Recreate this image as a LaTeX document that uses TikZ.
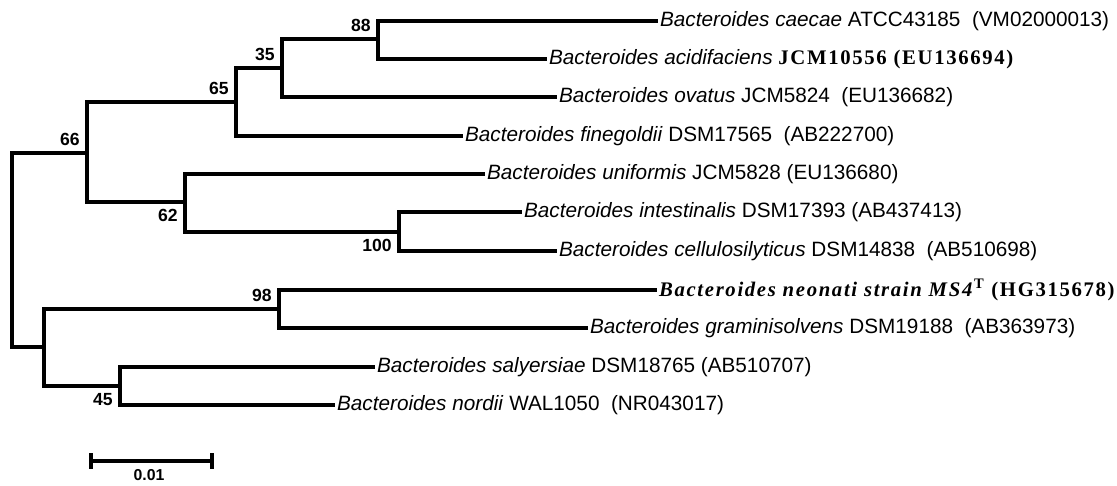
\documentclass[tikz,border=0pt]{standalone}
\usepackage{fontspec}
\setmainfont{Liberation Sans}
\newfontfamily\serifbf[LetterSpace=8]{Liberation Serif}
\usetikzlibrary{positioning}

\begin{document}
\begin{tikzpicture}[x=0.02cm, y=-0.02cm,
  br/.style={line width=1.9pt},
  taxon/.style={anchor=west, inner sep=1pt, font=\fontsize{11.8}{13}\selectfont},
  boot/.style={inner sep=4pt, font=\fontsize{10}{11}\selectfont\bfseries}]
  \useasboundingbox (0,0) rectangle (1117,485);
  % internal nodes
  \coordinate (root) at (12,250);
  \coordinate (n66) at (87,153);
  \coordinate (n65) at (236,102);
  \coordinate (n35) at (282,68);
  \coordinate (n88) at (378,39);
  \coordinate (n62) at (185,202);
  \coordinate (n100) at (399,232);
  \coordinate (nlow) at (44,347);
  \coordinate (n98) at (279,309);
  \coordinate (n45) at (120,386);
  % leaves
  \node[taxon] (caecae) at (658,21) {\textit{Bacteroides caecae} ATCC43185\ \ (VM02000013)};
  \node[taxon] (acidi) at (547,59) {\textit{Bacteroides acidifaciens} {\serifbf\bfseries JCM10556 (EU136694)}};
  \node[taxon] (ovatus) at (557,97) {\textit{Bacteroides ovatus} JCM5824\ \ (EU136682)};
  \node[taxon] (fine) at (463,136) {\textit{Bacteroides finegoldii} DSM17565\ \ (AB222700)};
  \node[taxon] (unif) at (485,174) {\textit{Bacteroides uniformis} JCM5828 (EU136680)};
  \node[taxon] (intest) at (522,212) {\textit{Bacteroides intestinalis} DSM17393\ (AB437413)};
  \node[taxon] (cellu) at (557,251) {\textit{Bacteroides cellulosilyticus} DSM14838\ \ (AB510698)};
  \node[taxon] (neonati) at (657,290) {\serifbf\bfseries\textit{Bacteroides neonati strain MS4}\textsuperscript{T} (HG315678)};
  \node[taxon] (gramin) at (588,328) {\textit{Bacteroides graminisolvens} DSM19188\ \ (AB363973)};
  \node[taxon] (salyer) at (375,367) {\textit{Bacteroides salyersiae} DSM18765 (AB510707)};
  \node[taxon] (nordii) at (335,405) {\textit{Bacteroides nordii} WAL1050\ \ (NR043017)};
  % branches
  \draw[br] (root) |- (n66);
  \draw[br] (root) |- (nlow);
  \draw[br] (n66) |- (n65);
  \draw[br] (n66) |- (n62);
  \draw[br] (n65) |- (n35);
  \draw[br] (n65) |- (fine.west);
  \draw[br] (n35) |- (n88);
  \draw[br] (n35) |- (ovatus.west);
  \draw[br] (n88) |- (caecae.west);
  \draw[br] (n88) |- (acidi.west);
  \draw[br] (n62) |- (unif.west);
  \draw[br] (n62) |- (n100);
  \draw[br] (n100) |- (intest.west);
  \draw[br] (n100) |- (cellu.west);
  \draw[br] (nlow) |- (n98);
  \draw[br] (nlow) |- (n45);
  \draw[br] (n98) |- (neonati.west);
  \draw[br] (n98) |- (gramin.west);
  \draw[br] (n45) |- (salyer.west);
  \draw[br] (n45) |- (nordii.west);
  % bootstrap values
  \node[boot, anchor=south east] (b88) at (n88) {88};
  \node[boot, anchor=south east] (b35) at (n35) {35};
  \node[boot, anchor=south east] (b65) at (n65) {65};
  \node[boot, anchor=south east] (b66) at (n66) {66};
  \node[boot, anchor=north east] (b62) at (n62) {62};
  \node[boot, anchor=north east] (b100) at (n100) {100};
  \node[boot, anchor=south east] (b98) at (n98) {98};
  \node[boot, anchor=north east] (b45) at (n45) {45};
  % scale bar
  \coordinate (sbl) at (91,461);
  \coordinate (sbr) at (212,461);
  \draw[br] (sbl) -- (sbr);
  \draw[br] (sbl) ++(0,-8) -- ++(0,16);
  \draw[br] (sbr) ++(0,-8) -- ++(0,16);
  \node[boot, inner sep=0pt, font=\fontsize{9}{10}\selectfont\bfseries] (sblab) at (149,475) {0.01};
\end{tikzpicture}
\end{document}
